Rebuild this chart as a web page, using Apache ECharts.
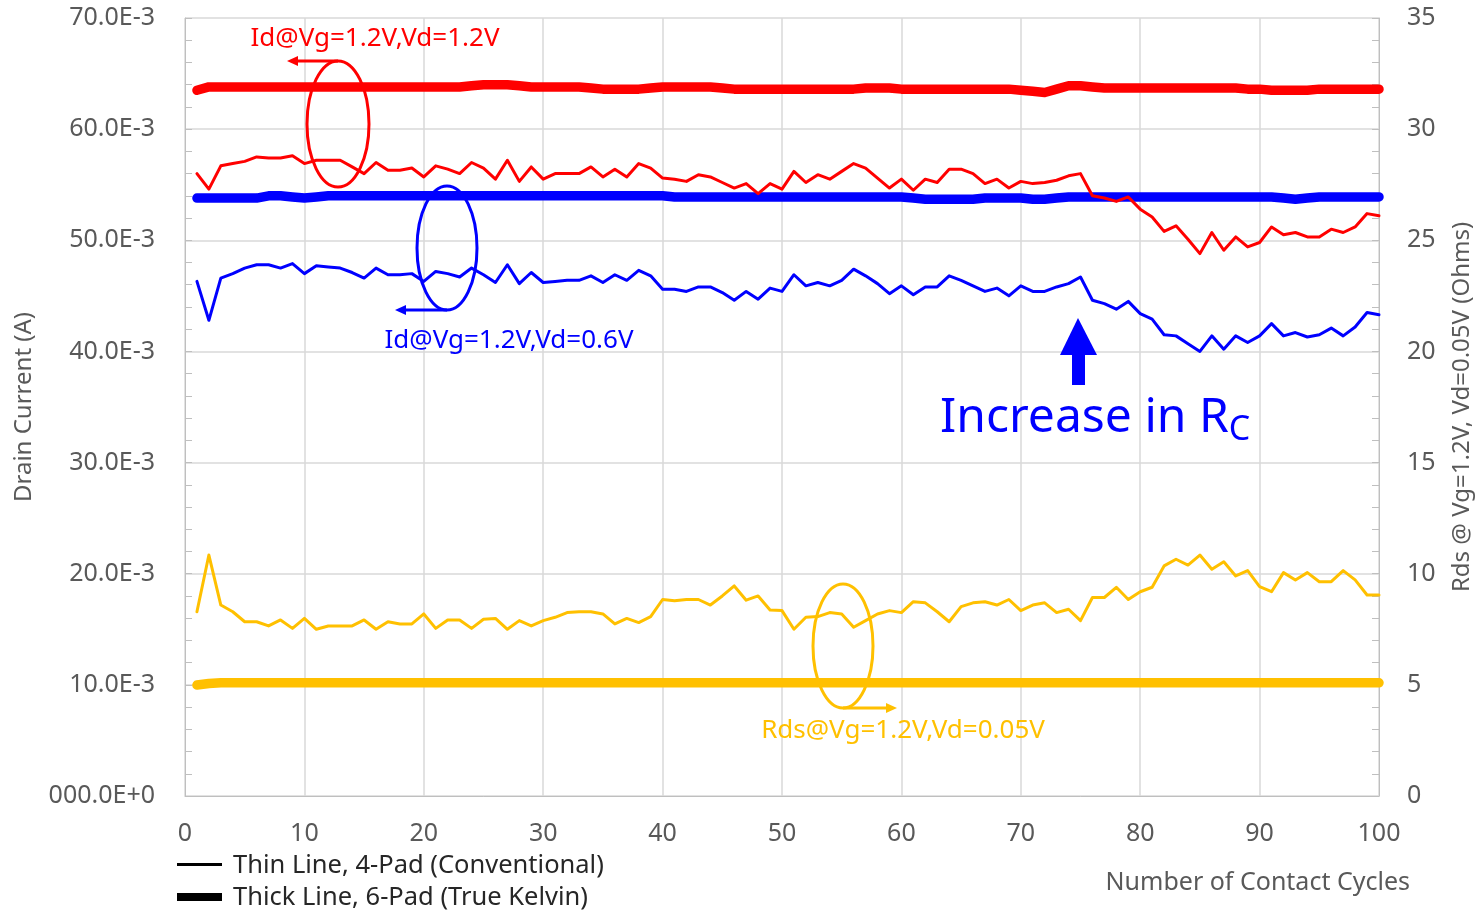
<!DOCTYPE html>
<html>
<head>
<meta charset="utf-8">
<script src="https://cdn.jsdelivr.net/npm/echarts@6/dist/echarts.min.js"></script>
<style>html,body{margin:0;padding:0;background:#fff}#c{width:1478px;height:911px}</style>
</head>
<body>
<div id="c"></div>
<script>
// ---- data ----
const cycles = Array.from({length: 100}, (_, i) => i + 1);
// Id @ Vg=1.2V, Vd=1.2V  (mA)
const idVd12Thin = [56.0,54.6,56.7,56.9,57.1,57.5,57.4,57.4,57.6,56.9,57.2,57.2,57.2,56.6,56.0,57.0,56.3,56.3,56.5,55.7,56.7,56.4,56.0,57.0,56.5,55.5,57.2,55.3,56.6,55.5,56.0,56.0,56.0,56.6,55.7,56.4,55.7,56.9,56.5,55.6,55.5,55.3,55.9,55.7,55.2,54.7,55.1,54.2,55.1,54.6,56.2,55.2,55.9,55.5,56.2,56.9,56.5,55.6,54.7,55.5,54.5,55.5,55.2,56.4,56.4,56.0,55.1,55.5,54.7,55.3,55.1,55.2,55.4,55.8,56.0,54.0,53.8,53.5,53.9,52.8,52.1,50.8,51.3,50.1,48.8,50.7,49.1,50.3,49.4,49.8,51.2,50.5,50.7,50.3,50.3,51.0,50.7,51.2,52.4,52.2];
const idVd12Thick = [63.5,63.8,63.8,63.8,63.8,63.8,63.8,63.8,63.8,63.8,63.8,63.8,63.8,63.8,63.8,63.8,63.8,63.8,63.8,63.8,63.8,63.8,63.8,63.9,64.0,64.0,64.0,63.9,63.8,63.8,63.8,63.8,63.8,63.7,63.6,63.6,63.6,63.6,63.7,63.8,63.8,63.8,63.8,63.8,63.7,63.6,63.6,63.6,63.6,63.6,63.6,63.6,63.6,63.6,63.6,63.6,63.7,63.7,63.7,63.6,63.6,63.6,63.6,63.6,63.6,63.6,63.6,63.6,63.6,63.5,63.4,63.3,63.6,63.9,63.9,63.8,63.7,63.7,63.7,63.7,63.7,63.7,63.7,63.7,63.7,63.7,63.7,63.7,63.6,63.6,63.5,63.5,63.5,63.5,63.6,63.6,63.6,63.6,63.6,63.6];
// Id @ Vg=1.2V, Vd=0.6V  (mA)
const idVd06Thin = [46.3,42.8,46.6,47.0,47.5,47.8,47.8,47.5,47.9,47.0,47.7,47.6,47.5,47.1,46.6,47.5,46.9,46.9,47.0,46.3,47.2,47.0,46.7,47.5,46.9,46.2,47.8,46.1,47.1,46.2,46.3,46.4,46.4,46.8,46.2,46.9,46.4,47.3,46.8,45.6,45.6,45.4,45.8,45.8,45.3,44.6,45.4,44.7,45.7,45.4,46.9,45.9,46.2,45.9,46.4,47.4,46.8,46.1,45.2,45.9,45.1,45.8,45.8,46.8,46.4,45.9,45.4,45.7,45.0,45.9,45.4,45.4,45.8,46.1,46.7,44.6,44.3,43.8,44.5,43.4,42.9,41.5,41.4,40.7,40.0,41.4,40.2,41.4,40.8,41.4,42.5,41.4,41.7,41.3,41.5,42.1,41.4,42.2,43.5,43.3];
const idVd06Thick = [53.8,53.8,53.8,53.8,53.8,53.8,54.0,54.0,53.9,53.8,53.9,54.0,54.0,54.0,54.0,54.0,54.0,54.0,54.0,54.0,54.0,54.0,54.0,54.0,54.0,54.0,54.0,54.0,54.0,54.0,54.0,54.0,54.0,54.0,54.0,54.0,54.0,54.0,54.0,54.0,53.9,53.9,53.9,53.9,53.9,53.9,53.9,53.9,53.9,53.9,53.9,53.9,53.9,53.9,53.9,53.9,53.9,53.9,53.9,53.9,53.8,53.7,53.7,53.7,53.7,53.7,53.8,53.8,53.8,53.8,53.7,53.7,53.8,53.9,53.9,53.9,53.9,53.9,53.9,53.9,53.9,53.9,53.9,53.9,53.9,53.9,53.9,53.9,53.9,53.9,53.9,53.8,53.7,53.8,53.9,53.9,53.9,53.9,53.9,53.9];
// Rds @ Vg=1.2V, Vd=0.05V  (Ohms)
const rdsThin = [8.29,10.84,8.59,8.29,7.84,7.84,7.65,7.92,7.54,7.99,7.50,7.65,7.65,7.65,7.92,7.50,7.84,7.74,7.74,8.19,7.54,7.92,7.92,7.54,7.95,7.99,7.50,7.89,7.65,7.89,8.04,8.25,8.29,8.29,8.19,7.74,7.99,7.80,8.07,8.84,8.78,8.84,8.84,8.59,9.00,9.45,8.81,9.00,8.37,8.34,7.50,8.04,8.07,8.25,8.19,7.59,7.89,8.19,8.34,8.25,8.74,8.69,8.29,7.84,8.52,8.69,8.74,8.59,8.84,8.34,8.59,8.69,8.25,8.40,7.89,8.93,8.93,9.39,8.84,9.19,9.39,10.35,10.65,10.39,10.84,10.20,10.54,9.90,10.14,9.42,9.19,10.05,9.72,10.05,9.64,9.64,10.14,9.72,9.04,9.04];
const rdsThick = [4.99,5.06].concat(Array(98).fill(5.09));
const leftTickLabels = ['000.0E+0','10.0E-3','20.0E-3','30.0E-3','40.0E-3','50.0E-3','60.0E-3','70.0E-3'];
const xTickLabels = ['0','10','20','30','40','50','60','70','80','90','100'];

const toA = arr => arr.map((v, i) => [cycles[i], v / 1000]);
const toOhm = arr => arr.map((v, i) => [cycles[i], v]);

const RED = '#FF0000', BLUE = '#0000FF', YEL = '#FFC000', GRAY = '#595959';
const FONT = 'Noto Sans';

function lineSeries(data, color, width, yIdx, z) {
  return { type: 'line', data: data, yAxisIndex: yIdx, showSymbol: false, symbol: 'none',
    lineStyle: { color: color, width: width, cap: 'round', join: 'round' }, z: z, silent: true, animation: false };
}

const chart = echarts.init(document.getElementById('c'), null, { renderer: 'canvas' });
chart.setOption({
  backgroundColor: '#fff',
  animation: false,
  grid: { left: 185, right: 99, top: 18, bottom: 115, containLabel: false, outerBoundsMode: 'none' },
  xAxis: {
    type: 'value', min: 0, max: 100, interval: 10,
    axisLine: { show: true, lineStyle: { color: '#BFBFBF', width: 1 } },
    axisTick: { show: false },
    splitLine: { show: true, lineStyle: { color: '#D9D9D9', width: 1.5 } },
    axisLabel: { color: GRAY, fontFamily: FONT, fontSize: 25, margin: 25,
      formatter: v => xTickLabels[Math.round(v / 10)] }
  },
  yAxis: [
    {
      type: 'value', position: 'left', min: 0, max: 0.07, interval: 0.01,
      name: 'Drain Current (A)', nameLocation: 'middle', nameGap: 149,
      nameTextStyle: { color: GRAY, fontFamily: FONT, fontSize: 24 },
      axisLine: { show: true, lineStyle: { color: '#BFBFBF', width: 1 } },
      axisTick: { show: true, inside: true, length: 7, lineStyle: { color: '#BFBFBF' } },
      minorTick: { show: true, splitNumber: 5, length: 7, lineStyle: { color: '#BFBFBF' } },
      splitLine: { show: true, lineStyle: { color: '#D9D9D9', width: 1.5 } },
      axisLabel: { color: GRAY, fontFamily: FONT, fontSize: 25, margin: 30,
        formatter: v => leftTickLabels[Math.round(v * 100)] }
    },
    {
      type: 'value', position: 'right', min: 0, max: 35, interval: 5,
      name: 'Rds @ Vg=1.2V, Vd=0.05V (Ohms)', nameLocation: 'middle', nameGap: 71,
      nameTextStyle: { color: GRAY, fontFamily: FONT, fontSize: 24 },
      axisLine: { show: true, lineStyle: { color: '#BFBFBF', width: 1 } },
      axisTick: { show: true, inside: true, length: 7, lineStyle: { color: '#BFBFBF' } },
      minorTick: { show: true, splitNumber: 5, length: 7, lineStyle: { color: '#BFBFBF' } },
      splitLine: { show: false },
      axisLabel: { color: GRAY, fontFamily: FONT, fontSize: 25, margin: 28 }
    }
  ],
  series: [
    lineSeries(toA(idVd12Thick), RED, 9.5, 0, 2),
    lineSeries(toA(idVd06Thick), BLUE, 9.5, 0, 2),
    lineSeries(toOhm(rdsThick), YEL, 9.5, 1, 2),
    lineSeries(toA(idVd12Thin), RED, 3, 0, 3),
    lineSeries(toA(idVd06Thin), BLUE, 3, 0, 3),
    lineSeries(toOhm(rdsThin), YEL, 3, 1, 3)
  ],
  graphic: [
    // red annotation
    { type: 'ellipse', shape: { cx: 338, cy: 124, rx: 31, ry: 63 }, style: { fill: 'none', stroke: RED, lineWidth: 3 }, z: 100 },
    { type: 'line', shape: { x1: 338, y1: 61, x2: 296, y2: 61 }, style: { stroke: RED, lineWidth: 3 }, z: 100 },
    { type: 'polygon', shape: { points: [[287, 61], [298, 56], [298, 66]] }, style: { fill: RED }, z: 100 },
    { type: 'text', x: 375, y: 39, style: { text: 'Id@Vg=1.2V,Vd=1.2V', fill: RED, font: '26px "Noto Sans"', textAlign: 'center', textVerticalAlign: 'middle' }, z: 100 },
    // blue annotation
    { type: 'ellipse', shape: { cx: 447, cy: 248, rx: 30, ry: 62 }, style: { fill: 'none', stroke: BLUE, lineWidth: 3 }, z: 100 },
    { type: 'line', shape: { x1: 447, y1: 310, x2: 404, y2: 310 }, style: { stroke: BLUE, lineWidth: 3 }, z: 100 },
    { type: 'polygon', shape: { points: [[395, 310], [406, 305], [406, 315]] }, style: { fill: BLUE }, z: 100 },
    { type: 'text', x: 509, y: 341, style: { text: 'Id@Vg=1.2V,Vd=0.6V', fill: BLUE, font: '26px "Noto Sans"', textAlign: 'center', textVerticalAlign: 'middle' }, z: 100 },
    // yellow annotation
    { type: 'ellipse', shape: { cx: 843, cy: 646, rx: 30, ry: 62 }, style: { fill: 'none', stroke: YEL, lineWidth: 3 }, z: 100 },
    { type: 'line', shape: { x1: 843, y1: 708, x2: 888, y2: 708 }, style: { stroke: YEL, lineWidth: 3 }, z: 100 },
    { type: 'polygon', shape: { points: [[897, 708], [886, 703], [886, 713]] }, style: { fill: YEL }, z: 100 },
    { type: 'text', x: 903, y: 731, style: { text: 'Rds@Vg=1.2V,Vd=0.05V', fill: YEL, font: '26px "Noto Sans"', textAlign: 'center', textVerticalAlign: 'middle' }, z: 100 },
    // Increase in Rc arrow
    { type: 'polygon', shape: { points: [[1078, 318], [1060, 355], [1097, 355]] }, style: { fill: BLUE }, z: 100 },
    { type: 'rect', shape: { x: 1072, y: 354, width: 13, height: 31 }, style: { fill: BLUE }, z: 100 },
    { type: 'text', x: 940, y: 418, style: {
        text: '{a|Increase in R}{b|C}', fill: BLUE, textVerticalAlign: 'middle',
        rich: { a: { fontFamily: FONT, fontSize: 48, fill: BLUE, color: BLUE },
                b: { fontFamily: FONT, fontSize: 34, fill: BLUE, color: BLUE, padding: [24, 0, 0, 0] } } }, z: 100 },
    // legend
    { type: 'rect', shape: { x: 177, y: 863, width: 45, height: 3 }, style: { fill: '#000' }, z: 100 },
    { type: 'text', x: 233, y: 866, style: { text: 'Thin Line, 4-Pad (Conventional)', fill: '#262626', font: '25.5px "Noto Sans"', textVerticalAlign: 'middle' }, z: 100 },
    { type: 'rect', shape: { x: 177, y: 893, width: 45, height: 8 }, style: { fill: '#000' }, z: 100 },
    { type: 'text', x: 233, y: 898, style: { text: 'Thick Line, 6-Pad (True Kelvin)', fill: '#262626', font: '25.5px "Noto Sans"', textVerticalAlign: 'middle' }, z: 100 },
    // x axis name
    { type: 'text', x: 1410, y: 883, style: { text: 'Number of Contact Cycles', fill: GRAY, font: '25px "Noto Sans"', textAlign: 'right', textVerticalAlign: 'middle' }, z: 100 }
  ]
});
</script>
</body>
</html>
